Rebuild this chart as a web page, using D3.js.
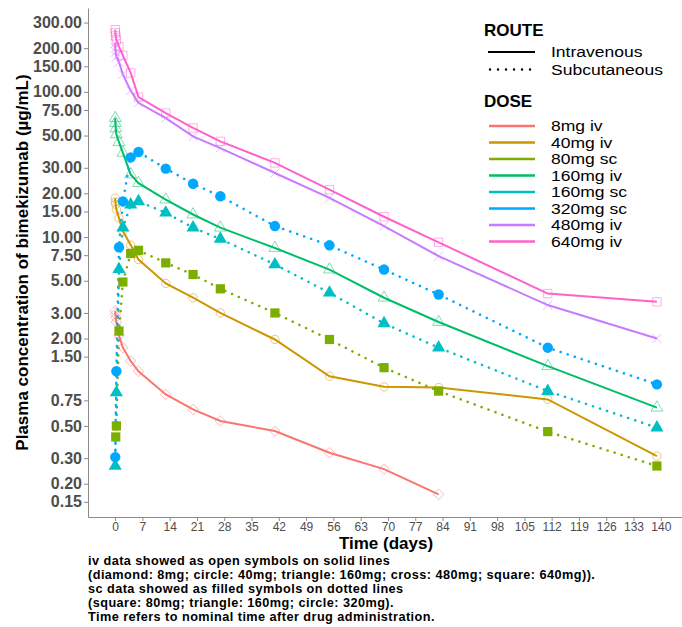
<!DOCTYPE html>
<html>
<head>
<meta charset="utf-8">
<script src="https://cdn.jsdelivr.net/npm/d3@7"></script>
<style>
  body { margin: 0; background: #ffffff; }
  svg { display: block; font-family: "Liberation Sans", Arial, Helvetica, sans-serif; }
</style>
</head>
<body>
<svg id="chart" width="682" height="627"></svg>
<script>
// ---- data -----------------------------------------------------------------
const doseLabels = ["8mg iv", "40mg iv", "80mg sc", "160mg iv", "160mg sc", "320mg sc", "480mg iv", "640mg iv"];
const doseRoutes = ["iv", "iv", "sc", "iv", "sc", "sc", "iv", "iv"];
const doseShapes = ["diamond", "circle", "square", "triangle", "triangle", "circle", "cross", "square"];

// nominal sampling times (days after administration)
const time8iv  = [0.04, 0.08, 0.17, 0.33, 1, 2, 4, 6, 13, 20, 27, 41, 55, 69, 83];
const timeIv   = [0.04, 0.08, 0.17, 0.33, 1, 2, 4, 6, 13, 20, 27, 41, 55, 69, 83, 111, 139];
const time80sc = [0.17, 0.33, 1, 2, 4, 6, 13, 20, 27, 41, 55, 69, 83, 111, 139];
const timeSc   = [0.04, 0.33, 1, 2, 4, 6, 13, 20, 27, 41, 55, 69, 83, 111, 139];

// plasma concentrations (µg/mL)
const conc8iv   = [3.1, 2.95, 2.8, 2.6, 2.1, 1.73, 1.4, 1.19, 0.824, 0.65, 0.541, 0.461, 0.327, 0.252, 0.169];
const conc40iv  = [18.5, 17.5, 16.8, 15.5, 13.5, 11.0, 8.8, 7.0, 4.79, 3.82, 3.0, 1.97, 1.10, 0.93, 0.92, 0.762, 0.31];
const conc80sc  = [0.42, 0.5, 2.25, 4.9, 7.7, 8.1, 6.64, 5.52, 4.4, 3.0, 1.97, 1.26, 0.869, 0.457, 0.265];
const conc160iv = [66, 61, 56, 51, 45, 38, 27, 23.5, 18.1, 14.3, 11.6, 8.4, 5.97, 3.82, 2.6, 1.29, 0.668];
const conc160sc = [0.265, 0.85, 6.0, 11.6, 16.7, 17.6, 14.7, 11.6, 9.7, 6.47, 4.13, 2.54, 1.73, 0.869, 0.487];
const conc320sc = [0.305, 1.19, 8.5, 17.6, 35.4, 38.5, 29.6, 23.3, 19.1, 11.9, 8.77, 5.97, 4.02, 1.73, 0.967];
const conc480iv = [215, 200, 188, 175, 160, 132, 102, 84, 66, 49.3, 41, 27.6, 18.6, 11.9, 7.38, 3.40, 2.0];
const conc640iv = [268, 255, 243, 228, 205, 178, 135, 92, 71.4, 56.4, 45.6, 32.4, 21.2, 13.8, 9.2, 4.08, 3.58];

const seriesTimes = [time8iv, timeIv, time80sc, timeIv, timeSc, timeSc, timeIv, timeIv];
const seriesConcs = [conc8iv, conc40iv, conc80sc, conc160iv, conc160sc, conc320sc, conc480iv, conc640iv];

const xTickValues = [0, 7, 14, 21, 28, 35, 42, 49, 56, 63, 70, 77, 84, 91, 98, 105, 112, 119, 126, 133, 140];
const yTickValues = [0.15, 0.2, 0.3, 0.5, 0.75, 1.5, 2, 3, 5, 7.5, 10, 15, 20, 30, 50, 75, 100, 150, 200, 300];

const routeLabels = ["Intravenous", "Subcutaneous"];
const captionLines = [
  "iv data showed as open symbols on solid lines",
  "(diamond: 8mg; circle: 40mg; triangle: 160mg; cross: 480mg; square: 640mg)).",
  "sc data showed as filled symbols on dotted lines",
  "(square: 80mg; triangle: 160mg; circle: 320mg).",
  "Time refers to nominal time after drug administration."
];

// ---- styling --------------------------------------------------------------
const doseColors = ["#F8766D", "#CD9600", "#7CAE00", "#00BE67", "#00BFC4", "#00A9FF", "#C77CFF", "#FF61CC"];
const axisGrey = "#8a8a8a";
const tickText = "#4d4d4d";

// ---- scales ---------------------------------------------------------------
const svg = d3.select("#chart");
const panel = { left: 88, right: 684, top: 8, bottom: 517 };

const x = d3.scaleLinear().domain([-6.95, 145.95]).range([panel.left, panel.right]);
const y = d3.scaleLog().domain([0.118, 378]).range([panel.bottom, panel.top]);

// ---- axes -----------------------------------------------------------------
const yAxis = svg.append("g")
  .attr("transform", `translate(${panel.left},0)`)
  .call(d3.axisLeft(y).tickValues(yTickValues).tickFormat(d3.format(".2f")).tickSize(4).tickPadding(2).tickSizeOuter(0));
yAxis.select(".domain").attr("stroke", axisGrey);
yAxis.selectAll(".tick line").attr("stroke", axisGrey);
yAxis.selectAll(".tick text")
  .attr("fill", tickText).style("font-size", "16px").style("font-weight", "bold")
  .style("font-family", "'Liberation Sans', Arial, sans-serif");

const xAxis = svg.append("g")
  .attr("transform", `translate(0,${panel.bottom})`)
  .call(d3.axisBottom(x).tickValues(xTickValues).tickFormat(d3.format("d")).tickSize(4).tickPadding(1).tickSizeOuter(0));
xAxis.select(".domain").attr("stroke", axisGrey);
xAxis.selectAll(".tick line").attr("stroke", axisGrey);
xAxis.selectAll(".tick text")
  .attr("fill", tickText).style("font-size", "12px")
  .style("font-family", "'Liberation Sans', Arial, sans-serif");

// axis titles
svg.append("text")
  .attr("transform", `translate(28,${(panel.top + panel.bottom) / 2}) rotate(-90)`)
  .attr("text-anchor", "middle")
  .style("font-size", "17px").style("font-weight", "bold").attr("fill", "#000")
  .text("Plasma concentration of bimekizumab (µg/mL)");

svg.append("text")
  .attr("x", (panel.left + panel.right) / 2).attr("y", 549)
  .attr("text-anchor", "middle")
  .style("font-size", "17px").style("font-weight", "bold").attr("fill", "#000")
  .text("Time (days)");

// ---- lines ----------------------------------------------------------------
const line = d3.line().x(d => x(d[0])).y(d => y(d[1]));
const seriesData = doseLabels.map((label, i) => ({
  label, route: doseRoutes[i], shape: doseShapes[i], color: doseColors[i],
  points: seriesTimes[i].map((t, j) => [t, seriesConcs[i][j]])
}));

const lineLayer = svg.append("g");
seriesData.forEach(s => {
  const p = lineLayer.append("path")
    .attr("d", line(s.points))
    .attr("fill", "none")
    .attr("stroke", s.color);
  if (s.route === "iv") {
    p.attr("stroke-width", 2);
  } else {
    p.attr("stroke-width", 2.6).attr("stroke-linecap", "round").attr("stroke-dasharray", "0.01 7.4");
  }
});

// ---- symbols --------------------------------------------------------------
const symTimes = d3.symbolTimes || d3.symbolX || d3.symbolCross;
const symDiamond = d3.symbolDiamond2 || d3.symbolDiamond;
function symbolFor(shape, route) {
  if (shape === "circle") return d3.symbol(d3.symbolCircle, route === "sc" ? 85 : 55);
  if (shape === "square") return d3.symbol(d3.symbolSquare, route === "sc" ? 85 : 70);
  if (shape === "triangle") return d3.symbol(d3.symbolTriangle, route === "sc" ? 75 : 60);
  if (shape === "diamond") return d3.symbol(symDiamond, 70);
  return d3.symbol(symTimes, 55);
}

const pointLayer = svg.append("g");
seriesData.forEach(s => {
  const gen = symbolFor(s.shape, s.route);
  const pts = pointLayer.selectAll(null).data(s.points).enter().append("path")
    .attr("transform", d => `translate(${x(d[0])},${y(d[1])})`)
    .attr("d", gen);
  if (s.route === "iv") {
    pts.attr("fill", "none").attr("stroke", s.color).attr("stroke-width", 1).attr("stroke-opacity", 0.5);
  } else {
    pts.attr("fill", s.color).attr("stroke", "none");
  }
});

// ---- legend ---------------------------------------------------------------
// labels are set in a slightly widened face so the rows stay clear of one another
const legendFont = 14.6;
const legendStretch = 1.2;
const legend = svg.append("g");
legend.append("text").attr("x", 484).attr("y", 36)
  .style("font-size", "17px").style("font-weight", "bold").attr("fill", "#000").text("ROUTE");

routeLabels.forEach((r, i) => {
  const cy = 52 + i * 17.5;
  const k = legend.append("line").attr("x1", 488).attr("x2", 535).attr("y1", cy).attr("y2", cy)
    .attr("stroke", "#000");
  if (i === 0) k.attr("stroke-width", 2);
  else k.attr("stroke-width", 2.4).attr("stroke-linecap", "round").attr("stroke-dasharray", "0.01 8").attr("x1", 490);
  legend.append("text")
    .attr("transform", `translate(551,${cy + 5}) scale(${legendStretch},1)`)
    .style("font-size", legendFont + "px").attr("fill", "#000").text(r);
});

legend.append("text").attr("x", 484).attr("y", 107)
  .style("font-size", "17px").style("font-weight", "bold").attr("fill", "#000").text("DOSE");

doseLabels.forEach((d, i) => {
  const cy = 126 + i * 16.5;
  legend.append("line").attr("x1", 489).attr("x2", 535).attr("y1", cy).attr("y2", cy)
    .attr("stroke", doseColors[i]).attr("stroke-width", 2.6);
  legend.append("text")
    .attr("transform", `translate(551,${cy + 5}) scale(${legendStretch},1)`)
    .style("font-size", legendFont + "px").attr("fill", "#000").text(d);
});

// ---- caption --------------------------------------------------------------
svg.append("g").selectAll("text").data(captionLines).enter().append("text")
  .attr("x", 88).attr("y", (d, i) => 564.6 + i * 14.2)
  .style("font-size", "12.7px").style("font-weight", "bold").style("letter-spacing", "0.45px")
  .attr("fill", "#000")
  .text(d => d);
</script>
</body>
</html>
